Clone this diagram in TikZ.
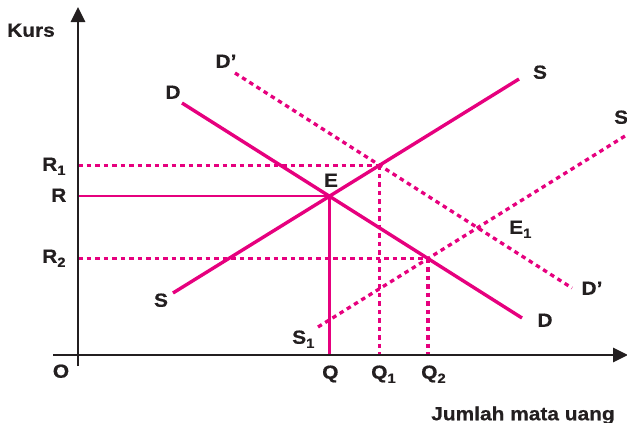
\documentclass[tikz,border=0pt]{standalone}
\usepackage{fontspec}
\newfontfamily\lblfont{Liberation Sans}[FakeStretch=1.1,FakeBold=0.6]
\usetikzlibrary{arrows.meta}
\definecolor{mag}{HTML}{E6007E}
\definecolor{ink}{HTML}{231F20}
\newcommand{\lsub}[1]{\raisebox{-0.22em}{\fontsize{13.5}{14}\selectfont #1}}
\begin{document}
\begin{tikzpicture}[x=1pt,y=-1pt,
  axis/.style={draw=ink,line width=2.8pt},
  curve/.style={draw=mag,line width=3.4pt},
  guide/.style={draw=mag,line width=2.2pt},
  dline/.style={draw=mag,line width=3.3pt,dash pattern=on 4.5pt off 4pt},
  lbl/.style={text=ink,inner sep=0pt,text height=13.5pt,text depth=0pt,font=\lblfont\bfseries\fontsize{19}{21}\selectfont},
  tip/.style={-{Triangle[length=15pt,width=14pt]}}]
\useasboundingbox (0,0) rectangle (627,423);
% axes
\coordinate (yb) at (78,366);
\coordinate (yt) at (78,7);
\coordinate (xl) at (53,355);
\coordinate (xr) at (628,355);
% curve ends
\coordinate (Sa) at (173,293);
\coordinate (Sb) at (519,79);
\coordinate (Da) at (182,103);
\coordinate (Db) at (522,318);
\coordinate (DPa) at (235,73);
\coordinate (DPb) at (572,288);
\coordinate (SPa) at (318,327);
\coordinate (SPb) at (625,136);
% intersections
\coordinate (E) at (intersection of Sa--Sb and Da--Db);
\coordinate (A1) at (intersection of Sa--Sb and DPa--DPb);
\coordinate (A2) at (intersection of Da--Db and SPa--SPb);
% dashed lines
\draw[dline] (DPa) -- (DPb);
\draw[dline] (SPa) -- (SPb);
\draw[dline] (A1 -| yb) -- (A1);
\draw[dline] (A1) -- (A1 |- xl);
\draw[dline] (A2 -| yb) -- (A2);
\draw[dline] (A2) -- (A2 |- xl);
% solid guides
\draw[guide] (E -| yb) -- (E);
\draw[guide] (E) -- (E |- xl);
% curves
\draw[curve] (Sa) -- (Sb);
\draw[curve] (Da) -- (Db);
% axes
\draw[axis,tip] (yb) -- (yt);
\draw[axis,tip] (xl) -- (xr);
% labels
\node[lbl] (kurs) at (31,30) {Kurs};
\node[lbl] (jml) at (523,413.5) {Jumlah mata uang};
\node[lbl] (lO) at (61,371) {O};
\node[lbl,anchor=west] (lR1) at (42,164) {R\lsub{1}};
\node[lbl,anchor=west] (lR) at (51,195) {R};
\node[lbl,anchor=west] (lR2) at (42,256) {R\lsub{2}};
\node[lbl,anchor=west] (lQ) at (322,372) {Q};
\node[lbl,anchor=west] (lQ1) at (371,372) {Q\lsub{1}};
\node[lbl,anchor=west] (lQ2) at (421,372) {Q\lsub{2}};
\node[lbl] (lE) at (331,180) {E};
\node[lbl,anchor=west] (lE1) at (509,227) {E\lsub{1}};
\node[lbl] (lDPt) at (226,61) {D’};
\node[lbl] (lDt) at (173,92) {D};
\node[lbl] (lSt) at (540,72) {S};
\node[lbl,anchor=west] (lSr) at (614,117) {S};
\node[lbl] (lSl) at (161,300) {S};
\node[lbl,anchor=west] (lS1) at (292,337) {S\lsub{1}};
\node[lbl] (lDPb) at (592,288) {D’};
\node[lbl] (lDb) at (545,320) {D};
\end{tikzpicture}
\end{document}
